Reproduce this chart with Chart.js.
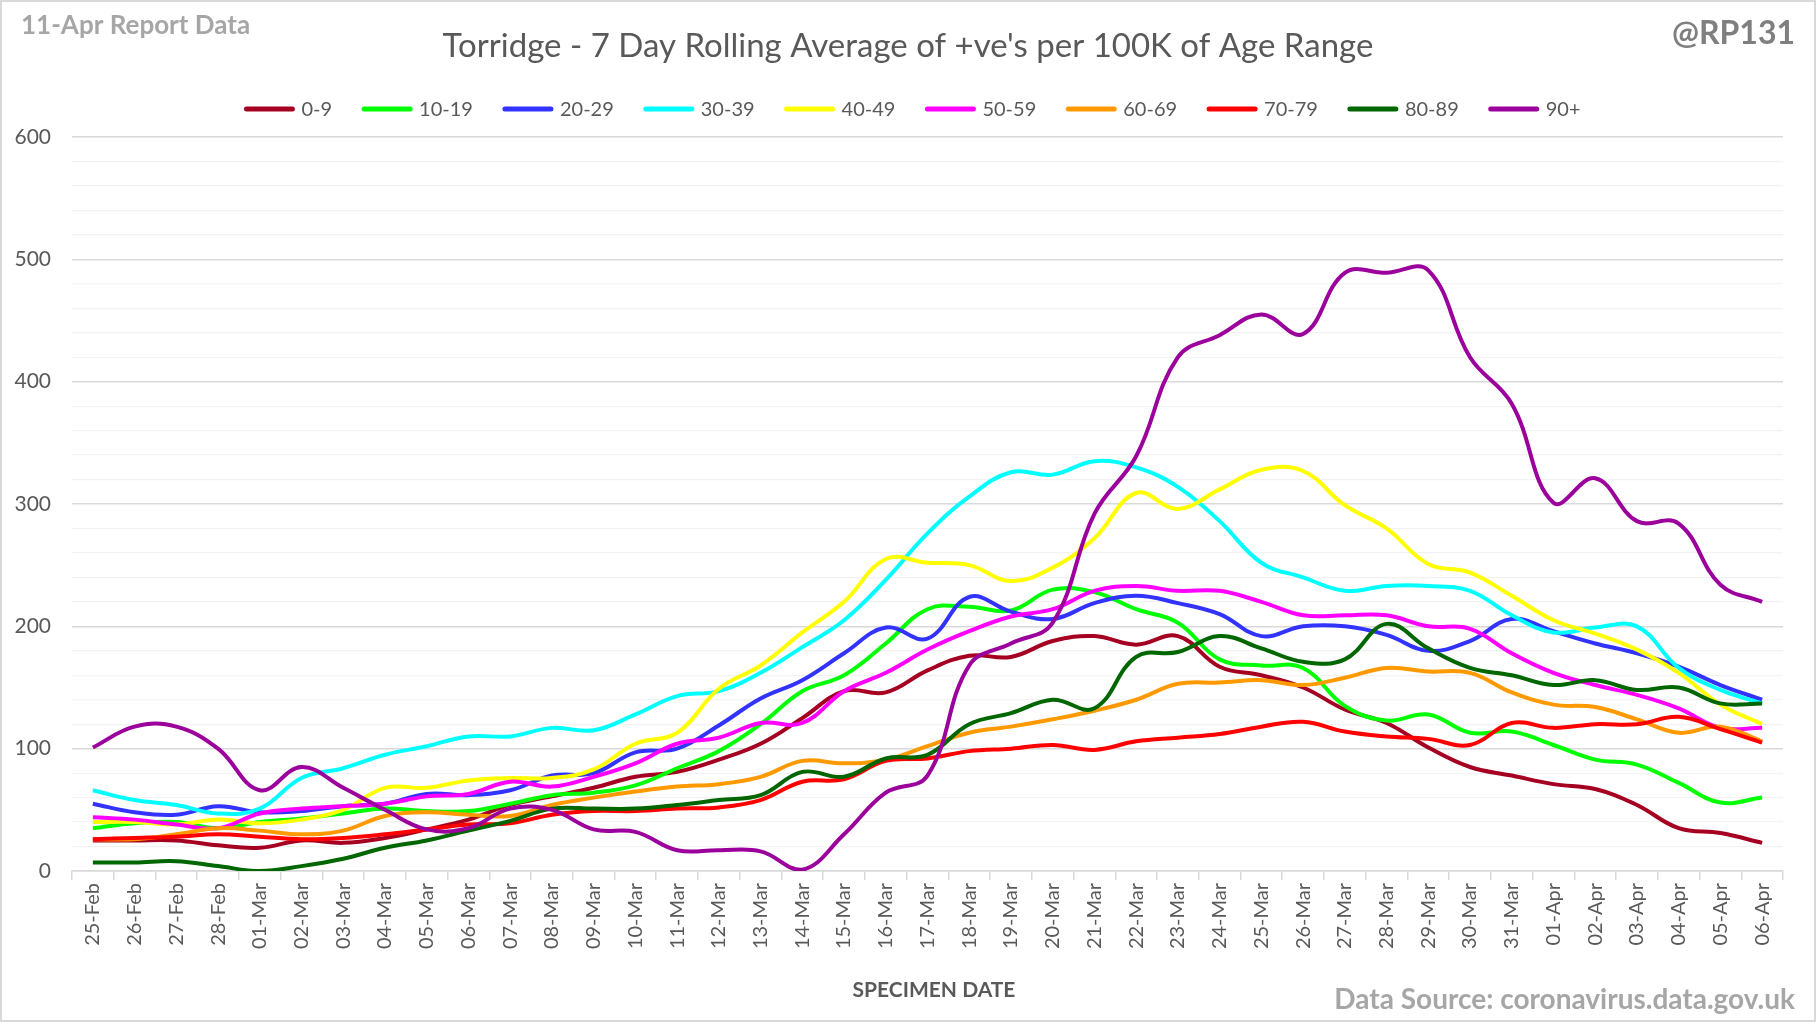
<!DOCTYPE html>
<html>
<head>
<meta charset="utf-8">
<title>Torridge - 7 Day Rolling Average</title>
<script src="https://cdn.jsdelivr.net/npm/chart.js@4.4.1/dist/chart.umd.min.js"></script>
<style>
  html, body { margin: 0; padding: 0; background: #ffffff; }
  canvas { display: block; }
</style>
</head>
<body>
<canvas id="ageChart" width="1816" height="1022"></canvas>
<script>
// values
const dates = ['25-Feb', '26-Feb', '27-Feb', '28-Feb',
  '01-Mar', '02-Mar', '03-Mar', '04-Mar', '05-Mar', '06-Mar', '07-Mar', '08-Mar', '09-Mar', '10-Mar',
  '11-Mar', '12-Mar', '13-Mar', '14-Mar', '15-Mar', '16-Mar', '17-Mar', '18-Mar', '19-Mar', '20-Mar',
  '21-Mar', '22-Mar', '23-Mar', '24-Mar', '25-Mar', '26-Mar', '27-Mar', '28-Mar', '29-Mar', '30-Mar',
  '31-Mar', '01-Apr', '02-Apr', '03-Apr', '04-Apr', '05-Apr', '06-Apr'];

const ageBands = ['0-9', '10-19', '20-29', '30-39', '40-49', '50-59', '60-69', '70-79', '80-89', '90+'];

const age0to9 = [25, 25, 25, 21, 19, 25, 23, 27, 34, 42, 54, 61, 68, 77, 81, 91, 104, 125, 147, 146,
  164, 176, 175, 188, 192, 185, 192, 167, 160, 150, 132, 121, 101, 85, 78, 71, 67, 54, 35, 31, 23];
const age10to19 = [35, 39, 40, 35, 40, 43, 47, 51, 49, 49, 55, 62, 64, 70, 84, 98, 120, 147, 160, 186,
  214, 216, 213, 230, 228, 214, 203, 173, 168, 166, 135, 123, 128, 113, 114, 103, 91, 87, 72, 56, 60];
const age20to29 = [55, 48, 46, 53, 48, 49, 53, 55, 63, 62, 66, 78, 80, 97, 100, 119, 141, 156, 178, 199,
  190, 224, 212, 206, 219, 225, 219, 210, 192, 200, 200, 193, 180, 188, 206, 196, 186, 178, 167, 152, 140];
const age30to39 = [66, 58, 54, 47, 51, 76, 84, 95, 102, 110, 110, 117, 115, 128, 143, 147, 162, 183, 205, 238,
  276, 306, 326, 324, 335, 330, 314, 286, 252, 240, 229, 233, 233, 229, 209, 195, 199, 200, 166, 148, 137];
const age40to49 = [40, 40, 38, 42, 39, 42, 50, 68, 68, 74, 76, 76, 83, 104, 113, 149, 168, 195, 220, 255,
  252, 250, 237, 248, 272, 309, 296, 312, 328, 327, 299, 280, 251, 244, 225, 205, 194, 181, 162, 136, 120];
const age50to59 = [44, 42, 38, 35, 47, 51, 53, 55, 61, 63, 73, 69, 77, 88, 104, 109, 121, 121, 147, 162,
  181, 196, 208, 214, 229, 233, 229, 229, 220, 209, 209, 209, 200, 198, 178, 162, 152, 144, 133, 117, 117];
const age60to69 = [26, 26, 30, 35, 33, 30, 33, 45, 48, 46, 45, 54, 60, 65, 69, 71, 77, 90, 88, 91,
  102, 113, 118, 124, 131, 140, 153, 154, 156, 152, 158, 166, 163, 162, 146, 136, 134, 124, 113, 118, 106];
const age70to79 = [26, 27, 28, 30, 28, 26, 27, 30, 34, 38, 39, 46, 49, 49, 51, 52, 58, 73, 75, 90,
  92, 98, 100, 103, 99, 106, 109, 112, 118, 122, 114, 110, 108, 103, 121, 117, 120, 120, 126, 116, 105];
const age80to89 = [7, 7, 8, 4, 0, 4, 10, 19, 25, 33, 41, 51, 51, 51, 54, 58, 62, 81, 77, 92,
  95, 120, 129, 140, 133, 175, 179, 192, 182, 171, 173, 202, 182, 166, 160, 152, 156, 148, 150, 137, 137];
const age90plus = [101, 118, 118, 100, 66, 85, 68, 50, 34, 35, 51, 50, 34, 32, 17, 17, 16, 1, 30, 64,
  78, 168, 186, 203, 292, 339, 420, 438, 455, 439, 489, 489, 491, 420, 382, 301, 321, 286, 284, 234, 220];

const seriesValues = [age0to9, age10to19, age20to29, age30to39, age40to49,
  age50to59, age60to69, age70to79, age80to89, age90plus];

const bandColours = ['#A50021', '#00FF00', '#3333FF', '#00FFFF', '#FFFF00',
  '#FF00FF', '#FF9900', '#FF0000', '#006600', '#9C009C'];

const yTicks = [0, 100, 200, 300, 400, 500, 600];

const fontFamily = 'Lato, "Open Sans", sans-serif';

// titles, legend and the corner notes
const decorations = {
  id: 'decorations',
  afterDraw(chart) {
    const ctx = chart.ctx;
    ctx.save();

    ctx.strokeStyle = '#d9d9d9';
    ctx.lineWidth = 2;
    ctx.strokeRect(1, 1, chart.width - 2, chart.height - 2);

    ctx.textBaseline = 'middle';

    ctx.fillStyle = '#595959';
    ctx.font = '33px ' + fontFamily;
    ctx.textAlign = 'center';
    ctx.fillText("Torridge - 7 Day Rolling Average of +ve's per 100K of Age Range", 908, 46);

    ctx.fillStyle = '#a6a6a6';
    ctx.font = 'bold 26px ' + fontFamily;
    ctx.textAlign = 'left';
    ctx.fillText('11-Apr Report Data', 21, 26);

    ctx.fillStyle = '#7f7f7f';
    ctx.font = 'bold 32px ' + fontFamily;
    ctx.textAlign = 'right';
    ctx.fillText('@RP131', 1795, 34);

    ctx.fillStyle = '#a6a6a6';
    ctx.font = 'bold 28px ' + fontFamily;
    ctx.fillText('Data Source: coronavirus.data.gov.uk', 1795, 1000);

    ctx.fillStyle = '#595959';
    ctx.font = 'bold 21px ' + fontFamily;
    ctx.textAlign = 'center';
    ctx.fillText('SPECIMEN DATE', 934, 990);

    // legend
    const sets = chart.data.datasets;
    const markLen = 52, markGap = 6, itemGap = 29;
    ctx.font = '20px ' + fontFamily;
    const widths = sets.map(d => markLen + markGap + ctx.measureText(d.label).width);
    const total = widths.reduce((a, b) => a + b, 0) + itemGap * (sets.length - 1);
    let x = 912 - total / 2;
    const ly = 109;
    ctx.textAlign = 'left';
    ctx.lineCap = 'round';
    sets.forEach((d, i) => {
      ctx.strokeStyle = d.borderColor;
      ctx.lineWidth = 5;
      ctx.beginPath();
      ctx.moveTo(x + 3, ly);
      ctx.lineTo(x + markLen - 3, ly);
      ctx.stroke();
      ctx.fillStyle = '#595959';
      ctx.fillText(d.label, x + markLen + markGap, ly + 1);
      x += widths[i] + itemGap;
    });

    ctx.restore();
  }
};

const ctx = document.getElementById('ageChart').getContext('2d');

const data = {
  labels: dates,
  datasets: ageBands.map((band, i) => ({
    label: band,
    data: seriesValues[i],
    borderColor: bandColours[i],
    backgroundColor: bandColours[i],
    borderWidth: 4,
    pointRadius: 0,
    tension: 0.4,
    fill: false,
    order: ageBands.length - i
  }))
};

const config = {
  type: 'line',
  data: data,
  options: {
    responsive: false,
    animation: false,
    devicePixelRatio: 1,
    layout: { padding: { left: 0, right: 33, top: 137, bottom: 0 } },
    plugins: {
      legend: { display: false },
      title: { display: false },
      tooltip: { enabled: false }
    },
    scales: {
      x: {
        offset: true,
        ticks: {
          color: '#595959',
          font: { family: fontFamily, size: 20 },
          minRotation: 90,
          maxRotation: 90,
          autoSkip: false,
          padding: 3
        },
        grid: {
          offset: true,
          drawOnChartArea: false,
          drawTicks: true,
          tickLength: 9,
          color: '#d9d9d9',
          lineWidth: 1.5
        },
        border: { color: '#d9d9d9', width: 1.5 },
        afterFit: function(scale) { scale.height = 151; }
      },
      y: {
        min: 0,
        max: 600,
        ticks: {
          stepSize: 20,
          autoSkip: false,
          color: '#595959',
          font: { family: fontFamily, size: 21 },
          padding: 21,
          callback: function(value) { return yTicks.includes(value) ? value : ''; }
        },
        grid: {
          drawTicks: false,
          color: function(c) { return c.tick.value % 100 === 0 ? '#d9d9d9' : '#f2f2f2'; },
          lineWidth: function(c) { return c.tick.value % 100 === 0 ? 1.5 : 1.2; }
        },
        border: { display: false },
        afterFit: function(scale) { scale.width = 72; }
      }
    }
  },
  plugins: [decorations]
};

const ageChart = new Chart(ctx, config);
</script>
</body>
</html>
